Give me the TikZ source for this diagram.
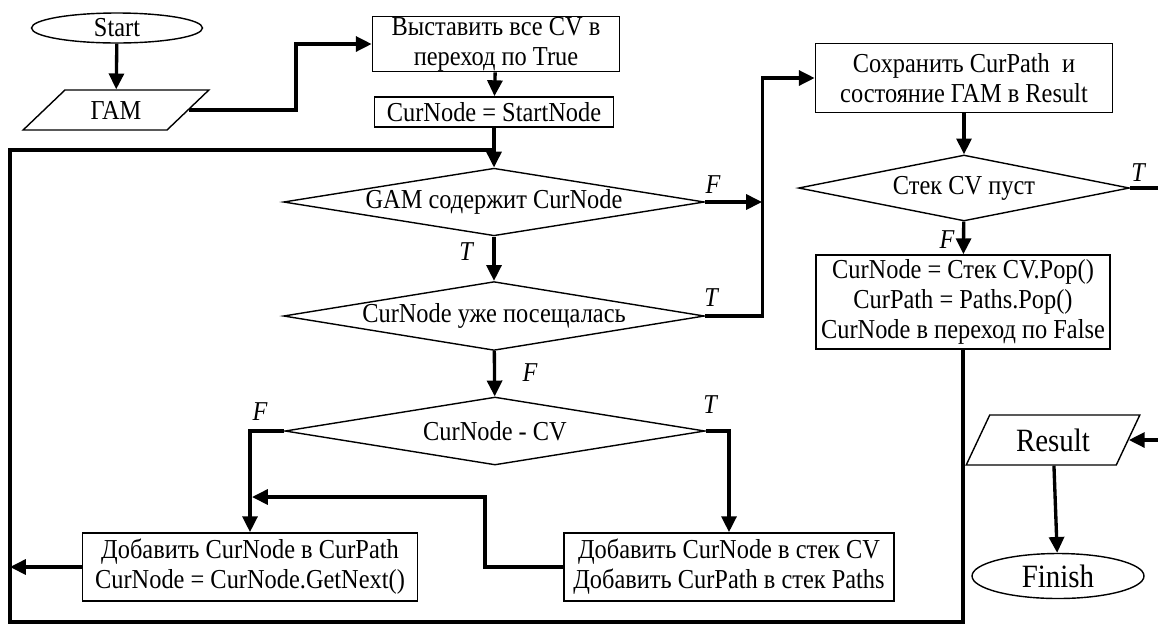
\documentclass[tikz,border=0pt]{standalone}
\usepackage{fontspec}
\setmainfont{Liberation Serif}[FakeStretch=0.89]
\usetikzlibrary{arrows.meta, shapes.geometric}
\tikzset{
  every node/.style={font=\fontsize{15.6}{17}\selectfont},
  term/.style  = {ellipse, draw, line width=0.8pt, inner sep=0pt},
  io/.style    = {trapezium, trapezium stretches=true, draw, line width=0.8pt, inner sep=0pt},
  proc/.style  = {rectangle, draw, line width=1pt, align=center, inner sep=0pt},
  cond/.style  = {diamond, aspect=6, draw, line width=0.8pt, inner sep=0pt},
  lbl/.style   = {font=\fontsize{15.5}{17}\selectfont\itshape, inner sep=0pt},
  big/.style   = {font=\fontsize{18.5}{20}\selectfont},
  arrow/.style = {-{Triangle[length=9pt,width=8.5pt]}, line width=1.9pt},
  line/.style  = {line width=1.9pt},
}

\begin{document}
\begin{tikzpicture}[x=0.02cm, y=-0.02cm]
  \useasboundingbox (0,0) rectangle (1158,623);

  % ---- left column: start and input ----
  \node[term] (start) at (117,28)  [minimum width=3.42cm, minimum height=0.6cm] {Start};
  \node[io]   (gam)   at (116,110) [minimum width=3.72cm, minimum height=0.8cm,
                                    trapezium left angle=41, trapezium right angle=139] {ГАМ};

  % ---- main column ----
  \node[proc] (set)  at (496,44)  [minimum width=4.94cm, minimum height=1.1cm]  {Выставить все CV в\\переход по True};
  \node[proc] (cur)  at (494,112) [minimum width=4.78cm, minimum height=0.6cm]  {CurNode = StartNode};
  \node[cond] (d1)   at (494,202) [minimum width=8.42cm, minimum height=1.34cm] {GAM содержит CurNode};
  \node[cond] (d2)   at (494,316) [minimum width=8.42cm, minimum height=1.36cm] {CurNode уже посещалась};
  \node[cond] (d3)   at (495,431) [minimum width=8.4cm,  minimum height=1.36cm] {CurNode - CV};
  \node[proc] (addp) at (250,567) [minimum width=6.7cm,  minimum height=1.36cm] {Добавить CurNode в CurPath\\CurNode = CurNode.GetNext()};
  \node[proc] (adds) at (729,567) [minimum width=6.6cm,  minimum height=1.36cm] {Добавить CurNode в стек CV\\Добавить CurPath в стек Paths};

  % ---- right column ----
  \node[proc] (save) at (964,78)  [minimum width=5.94cm, minimum height=1.38cm] {Сохранить CurPath~ и\\состояние ГАМ в Result};
  \node[cond] (d4)   at (964,188) [minimum width=6.62cm, minimum height=1.32cm] {Стек CV пуст};
  \node[proc] (pop)  at (963,302) [minimum width=5.88cm, minimum height=1.88cm] {CurNode = Стек CV.Pop()\\CurPath = Paths.Pop()\\CurNode в переход по False};
  \node[io, big]   (res) at (1053,440) [minimum width=3.48cm, minimum height=1.0cm,
                                        trapezium left angle=59, trapezium right angle=121] {Result};
  \node[term, big] (fin) at (1058,576) [minimum width=3.44cm, minimum height=0.9cm] {Finish};

  % ---- branch labels ----
  \node[lbl] (lF1) at (713,185)  {F};
  \node[lbl] (lT1) at (466,252)  {T};
  \node[lbl] (lT2) at (711,298)  {T};
  \node[lbl] (lF2) at (530,373)  {F};
  \node[lbl] (lF3) at (260,412)  {F};
  \node[lbl] (lT3) at (710,405)  {T};
  \node[lbl] (lT4) at (1138,173) {T};
  \node[lbl] (lF4) at (947,240)  {F};

  % ---- helper points ----
  \coordinate (fj) at (762,202);
  \coordinate (mg) at (252,497);
  \coordinate (lb) at (10,622);
  \coordinate (jt) at (494,150);

  % ---- arrows ----
  \draw[arrow] (start) -- (gam);
  \draw[arrow] (gam.east) -- ++(107,0) |- (set.west);
  \draw[arrow] (set) -- (cur);
  \draw[arrow] (cur) -- (d1);
  \draw[arrow] (d1) -- (d2);
  \draw[arrow] (d2) -- (d3);
  \draw[arrow] (d1.east) -- (fj);
  \draw[arrow] (d2.east) -- ++(57,0) |- (save.west);
  \draw[arrow] (d3.west) -| (addp.north);
  \draw[arrow] (d3.east) -| (adds.north);
  \draw[arrow] (adds.west) -- ++(-78,0) |- (mg);
  \draw[arrow] (addp.west) -- (addp.west -| lb);
  \draw[arrow] (save) -- (d4);
  \draw[arrow] (d4) -- (pop);
  \draw[arrow] (d4.east) -- ++(31,0) |- (res.east);
  \draw[arrow] (res) -- (fin);

  % ---- loop back ----
  \draw[line] (pop.south) |- (lb) |- (jt);
\end{tikzpicture}
\end{document}
